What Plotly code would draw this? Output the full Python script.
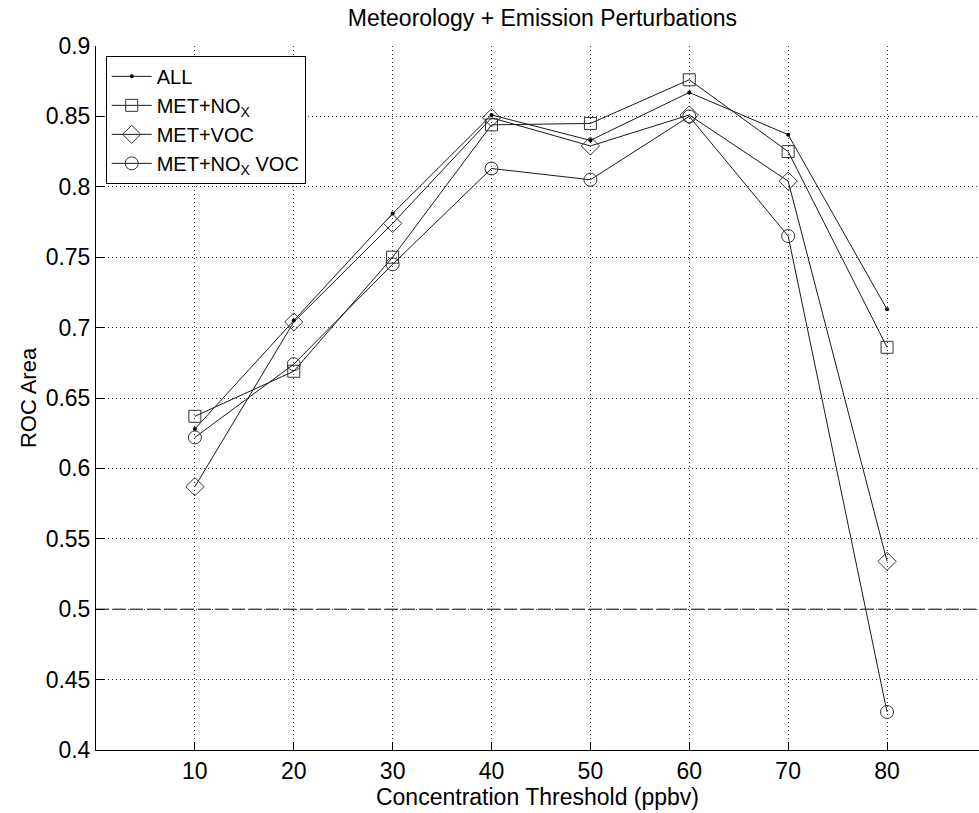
import plotly.graph_objects as go

# Concentration thresholds (ppbv)
thresholds = [10, 20, 30, 40, 50, 60, 70, 80]

# ROC area for each perturbation ensemble
roc_all = [0.628, 0.705, 0.781, 0.851, 0.833, 0.867, 0.837, 0.713]
roc_met_nox = [0.637, 0.669, 0.750, 0.844, 0.845, 0.876, 0.825, 0.686]
roc_met_voc = [0.587, 0.704, 0.774, 0.849, 0.829, 0.851, 0.804, 0.534]
roc_met_nox_voc = [0.622, 0.674, 0.745, 0.813, 0.805, 0.850, 0.765, 0.427]

series_names = ["ALL", "MET+NO<sub>X</sub>", "MET+VOC", "MET+NO<sub>X</sub> VOC"]
no_skill_level = 0.5

y_ticks = [0.4, 0.45, 0.5, 0.55, 0.6, 0.65, 0.7, 0.75, 0.8, 0.85, 0.9]
y_tick_text = ["0.4", "0.45", "0.5", "0.55", "0.6", "0.65", "0.7", "0.75", "0.8", "0.85", "0.9"]

FONT = "Liberation Sans, Arial, Helvetica, sans-serif"

fig = go.Figure()

styles = [
    dict(symbol="circle", size=4, color="black", line=dict(color="black", width=0)),
    dict(symbol="square-open", size=12, color="#333333", line=dict(width=1)),
    dict(symbol="diamond-open", size=14, color="#333333", line=dict(width=1)),
    dict(symbol="circle-open", size=13, color="#333333", line=dict(width=1)),
]
for name, vals, mk in zip(series_names, [roc_all, roc_met_nox, roc_met_voc, roc_met_nox_voc], styles):
    fig.add_trace(go.Scatter(
        x=thresholds, y=vals, name=name, mode="lines+markers",
        line=dict(color="#1a1a1a", width=1),
        marker=mk,
    ))

# no-skill reference line
fig.add_shape(type="line", xref="paper", x0=0, x1=1, yref="y",
              y0=no_skill_level, y1=no_skill_level,
              line=dict(color="black", width=1, dash="13px,4px"), layer="below")

axis_common = dict(
    showline=True, linecolor="black", linewidth=1,
    ticks="inside", ticklen=8, tickcolor="black", tickwidth=1,
    showgrid=True, gridcolor="#333333", gridwidth=1, griddash="1px,3px",
    zeroline=False,
    tickfont=dict(family=FONT, size=23, color="black"),
)

fig.update_layout(
    width=979, height=813,
    margin=dict(l=96, r=0, t=46, b=63),
    paper_bgcolor="white", plot_bgcolor="white",
    title=dict(text="Meteorology + Emission Perturbations",
               font=dict(family=FONT, size=23, color="black"),
               x=0.554, xref="container", xanchor="center",
               y=0.978, yref="container", yanchor="middle"),
    xaxis=dict(range=[0, 89.3], tickvals=thresholds,
               title=dict(text="Concentration Threshold (ppbv)",
                          font=dict(family=FONT, size=23, color="black"), standoff=0),
               **axis_common),
    xaxis2=dict(range=[0, 89.3], overlaying="x", side="top", matches="x",
                tickvals=thresholds, showticklabels=False, showgrid=False,
                showline=True, linecolor="black", linewidth=1,
                ticks="inside", ticklen=8, tickcolor="black", zeroline=False),
    yaxis=dict(range=[0.4, 0.9], tickvals=y_ticks, ticktext=y_tick_text,
               title=dict(text="ROC Area", font=dict(family=FONT, size=22, color="black"),
                          standoff=2),
               **axis_common),
    legend=dict(x=0.011, y=0.986, xanchor="left", yanchor="top",
                bgcolor="white", bordercolor="black", borderwidth=1,
                font=dict(family=FONT, size=20, color="black"),
                tracegroupgap=0, itemwidth=40),
    showlegend=True,
)

fig.write_html("out.html")
